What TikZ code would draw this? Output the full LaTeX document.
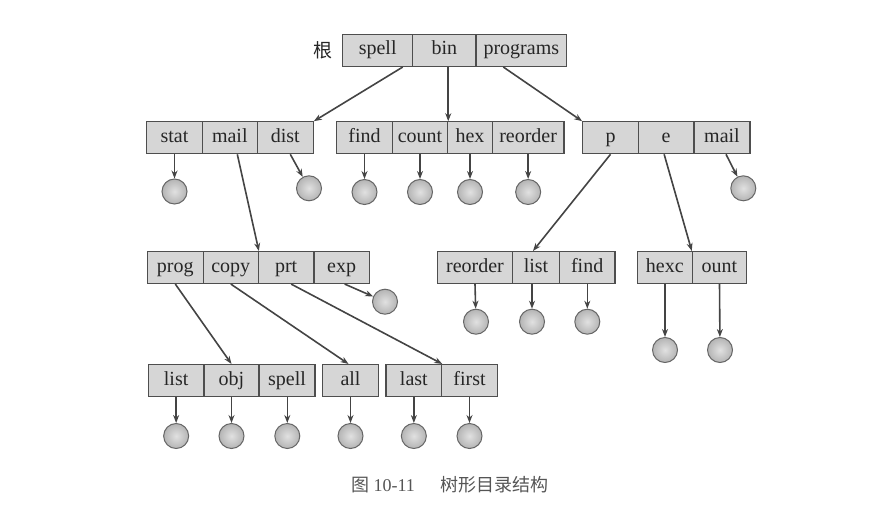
\documentclass[tikz,border=0pt]{standalone}
\usepackage{fontspec}
\setmainfont{Liberation Serif}
\newfontfamily\cjk{Noto Sans CJK SC}
\usetikzlibrary{arrows.meta,calc}
\definecolor{boxfill}{HTML}{D6D6D6}
\definecolor{boxline}{HTML}{4E4E4E}
\definecolor{ballfill}{HTML}{C8C8C8}
\definecolor{ballline}{HTML}{666666}
\definecolor{linecol}{HTML}{444444}
\definecolor{txtcol}{HTML}{262626}
\definecolor{capcol}{HTML}{555555}
\tikzset{
  cell/.style={draw=boxline, line width=1.1pt, fill=boxfill, minimum height=32pt, inner sep=0pt,
    text height=13.5pt, text depth=4.5pt, text=txtcol, font=\fontsize{20}{23}\selectfont},
  ball/.style={circle, draw=ballline, line width=1pt, inner color=ballfill!55!white, outer color=ballfill!90!black,
    minimum size=25pt, inner sep=0pt},
  conn/.style={draw=linecol, line width=1.6pt, -{Stealth[length=8pt,width=6pt]}},
}
\begin{document}
\begin{tikzpicture}[x=1pt,y=-1pt]
\useasboundingbox (0,0) rectangle (869,532);
% root
\node[text=txtcol, font=\cjk\fontsize{19}{21}\selectfont] (gen) at (323,50) {根};
\node[cell, minimum width=70pt]   (r-spell) at (377.7,50.5) {spell};
\node[cell, minimum width=63.3pt] (r-bin)   at (444.35,50.5) {bin};
\node[cell, minimum width=90.7pt] (r-prog)  at (521.35,50.5) {programs};
% level 2
\node[cell, minimum width=55.6pt] (a-stat) at (174.5,137.75) {stat};
\node[cell, minimum width=55pt]   (a-mail) at (229.8,137.75) {mail};
\node[cell, minimum width=56pt]   (a-dist) at (285.3,137.75) {dist};
\node[cell, minimum width=55.6pt] (b-find)  at (364.5,137.75) {find};
\node[cell, minimum width=55.4pt] (b-count) at (420,137.75) {count};
\node[cell, minimum width=44.6pt] (b-hex)   at (470,137.75) {hex};
\node[cell, minimum width=71.7pt] (b-reord) at (528.15,137.75) {reorder};
\node[cell, minimum width=55.6pt] (c-p)    at (610.5,137.75) {p};
\node[cell, minimum width=55.7pt] (c-e)    at (666.15,137.75) {e};
\node[cell, minimum width=56pt]   (c-mail) at (722,137.75) {mail};
% level 3
\node[cell, minimum width=56pt]   (d-prog) at (175.3,267.5) {prog};
\node[cell, minimum width=55pt]   (d-copy) at (230.8,267.5) {copy};
\node[cell, minimum width=55.7pt] (d-prt)  at (286.15,267.5) {prt};
\node[cell, minimum width=55.3pt] (d-exp)  at (341.65,267.5) {exp};
\node[cell, minimum width=75.4pt] (e-reord) at (475,267.5) {reorder};
\node[cell, minimum width=46.6pt] (e-list)  at (536,267.5) {list};
\node[cell, minimum width=55.7pt] (e-find)  at (587.15,267.5) {find};
\node[cell, minimum width=55pt]   (f-hexc) at (664.8,267.5) {hexc};
\node[cell, minimum width=54.4pt] (f-ount) at (719.5,267.5) {ount};
% level 4
\node[cell, minimum width=55.7pt] (g-list)  at (176.15,380.5) {list};
\node[cell, minimum width=55pt]   (g-obj)   at (231.5,380.5) {obj};
\node[cell, minimum width=56pt]   (g-spell) at (287,380.5) {spell};
\node[cell, minimum width=55.6pt] (h-all)   at (350.5,380.5) {all};
\node[cell, minimum width=55.7pt] (i-last)  at (413.85,380.5) {last};
\node[cell, minimum width=55.6pt] (i-first) at (469.5,380.5) {first};
% balls level 2
\node[ball] (o-stat)  at (174.5,191.5) {};
\node[ball] (o-dist)  at (309,188.3) {};
\node[ball] (o-find)  at (364.5,192) {};
\node[ball] (o-count) at (420,192) {};
\node[ball] (o-hex)   at (470,192) {};
\node[ball] (o-reord) at (528.15,192) {};
\node[ball] (o-cmail) at (743.3,188.3) {};
% balls level 3
\node[ball] (o-exp)   at (385,301.7) {};
\node[ball] (o-ereord) at (476,321.7) {};
\node[ball] (o-elist)  at (532,321.7) {};
\node[ball] (o-efind)  at (587.3,321.7) {};
\node[ball] (o-hexc)   at (665,350) {};
\node[ball] (o-ount)   at (720,350) {};
% balls level 4
\node[ball] (o-glist)  at (176.15,436) {};
\node[ball] (o-gobj)   at (231.5,436) {};
\node[ball] (o-gspell) at (287.3,436) {};
\node[ball] (o-hall)   at (350.5,436) {};
\node[ball] (o-ilast)  at (413.85,436) {};
\node[ball] (o-ifirst) at (469.5,436) {};
% root connectors
\draw[conn] ([xshift=25pt]r-spell.south) -- (a-dist.north east);
\draw[conn] (r-bin.south -| b-count.north east) -- (b-count.north east);
\draw[conn] ([xshift=-18pt]r-prog.south) -- (c-p.north west);
% level 2 connectors
\draw[conn] ([xshift=7.5pt]a-mail.south) -- (d-copy.north east);
\draw[conn] (c-p.south) -- ([xshift=-3pt]e-list.north);
\draw[conn] ([xshift=-2pt]c-e.south) -- (f-ount.north west);
% level 3 connectors
\draw[conn] (d-prog.south) -- (g-obj.north);
\draw[conn] (d-copy.south) -- ([xshift=-2pt]h-all.north);
\draw[conn] ([xshift=5pt]d-prt.south) -- (i-last.north east);
% leaves
\draw[conn] (a-stat.south) -- (o-stat);
\draw[conn] ([xshift=5pt]a-dist.south) -- (o-dist);
\draw[conn] (b-find.south) -- (o-find);
\draw[conn] (b-count.south) -- (o-count);
\draw[conn] (b-hex.south) -- (o-hex);
\draw[conn] (b-reord.south) -- (o-reord);
\draw[conn] ([xshift=4pt]c-mail.south) -- (o-cmail);
\draw[conn] ([xshift=3pt]d-exp.south) -- (o-exp);
\draw[conn] (e-reord.south) -- (o-ereord);
\draw[conn] (e-list.south -| o-elist) -- (o-elist);
\draw[conn] (e-find.south -| o-efind) -- (o-efind);
\draw[conn] (f-hexc.south -| o-hexc) -- (o-hexc);
\draw[conn] (f-ount.south) -- (o-ount);
\draw[conn] (g-list.south) -- (o-glist);
\draw[conn] (g-obj.south) -- (o-gobj);
\draw[conn] (g-spell.south -| o-gspell) -- (o-gspell);
\draw[conn] (h-all.south) -- (o-hall);
\draw[conn] (i-last.south) -- (o-ilast);
\draw[conn] (i-first.south) -- (o-ifirst);
% caption
\node[text=capcol, font=\fontsize{18}{20}\selectfont] (cap) at (450,485)
  {{\cjk 图}\ 10-11\hspace{26pt}{\cjk 树形目录结构}};
\end{tikzpicture}
\end{document}
